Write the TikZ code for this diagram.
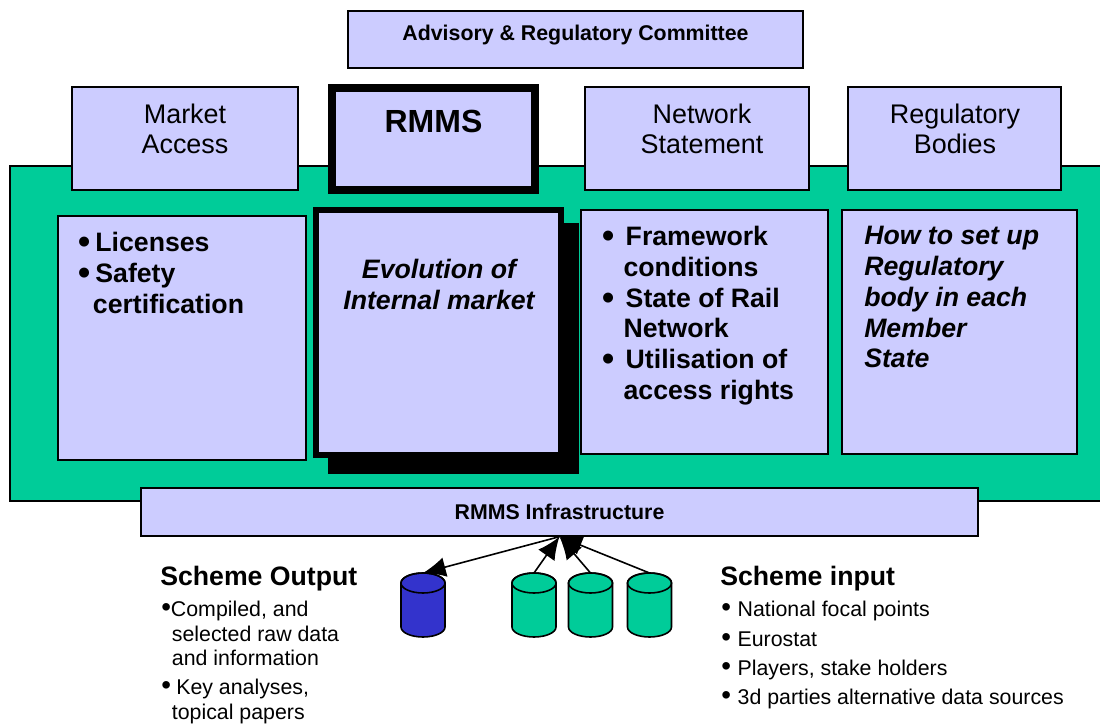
\documentclass[tikz,border=0pt]{standalone}
\usepackage{fontspec}
\setmainfont{Liberation Sans}
\usetikzlibrary{arrows.meta}
\definecolor{lilac}{HTML}{CCCCFF}
\definecolor{panelgreen}{HTML}{00CC99}
\definecolor{dbblue}{HTML}{3333CC}
\newcommand{\blt}{\scalebox{1.3}{\textbullet}}
\newcommand{\bltlow}{\raisebox{-1.5pt}{\blt}}
\tikzset{
	box/.style={draw=black,fill=lilac,line width=1pt,inner sep=0pt},
	boxsize/.style 2 args={minimum width=#1*0.75pt,minimum height=#2*0.75pt},
	flow/.style={-{Latex[length=17pt,width=15pt]},line width=1.2pt},
	big/.style={font=\fontsize{20.2}{23}\selectfont,align=center,inner sep=0pt},
	bigbold/.style={font=\fontsize{20}{23.1}\selectfont\bfseries,align=left,inner sep=0pt,anchor=north west},
	bigital/.style={font=\fontsize{20}{23.1}\selectfont\bfseries\itshape,inner sep=0pt},
	small/.style={font=\fontsize{16}{18.4}\selectfont,align=left,inner sep=0pt,anchor=north west},
	smallbold/.style={font=\fontsize{16}{18}\selectfont\bfseries,inner sep=0pt}
}
\begin{document}
\begin{tikzpicture}[x=0.75pt,y=-0.75pt]
	
	\useasboundingbox (0,0) rectangle (1100,724);
	
	% green panel
	\fill[panelgreen] (10,166) rectangle (1100,501);
	\draw[line width=1pt] (1100,166) -| (10,501) -- (1100,501);
	
	% top row
	\node[box,boxsize={455}{57}] (advisory) at (575.5,39.5) {};
	\node[box,boxsize={226}{103}] (market) at (185,138.5) {};
	\node[box,boxsize={203}{102},line width=6pt] (rmms) at (433.5,139) {};
	\node[box,boxsize={224}{103}] (network) at (697,138.5) {};
	\node[box,boxsize={213}{103}] (regulatory) at (954.5,138.5) {};
	
	\node[smallbold] (advisorytext) at (575.5,35) {Advisory \& Regulatory Committee};
	\node[big] (markettext) at (185,129) {Market\\Access};
	\node[font=\fontsize{24}{30}\selectfont\bfseries,inner sep=0pt] (rmmstext) at (433.5,121) {RMMS};
	\node[big] (networktext) at (702,129) {Network\hspace{6pt}\\Statement};
	\node[big] (regulatorytext) at (955,129) {Regulatory\\Bodies};
	
	% middle row
	\fill (328,223) rectangle (579,474);
	\node[box,boxsize={248}{244}] (licenses) at (182,338) {};
	\node[box,boxsize={245}{245},line width=4.5pt] (evolution) at (438,332.5) {};
	\node[box,boxsize={247}{244}] (framework) at (704.5,332) {};
	\node[box,boxsize={235}{244}] (howto) at (959.5,332) {};
	
	\node[bigbold] (licensestext) at (78,232) {\bltlow\hspace{3.75pt}Licenses\\\bltlow\hspace{3.75pt}Safety\\\hspace{11pt}certification};
	\node[bigital,align=center] (evolutiontext) at (439,284.5) {Evolution of\\Internal market};
	\node[bigbold] (frameworktext) at (602,226) {\bltlow\hspace{8.5pt}Framework\\\hspace{16pt}conditions\\\bltlow\hspace{8.5pt}State of Rail\\\hspace{16pt}Network\\\bltlow\hspace{8.5pt}Utilisation of\\\hspace{16pt}access rights};
	\node[bigital,align=left,anchor=north west] (howtotext) at (864,226) {How to set up\\Regulatory\\body in each\\Member\\State};
	
	% infrastructure
	\node[box,boxsize={837}{48}] (infra) at (559.5,512) {};
	\node[smallbold] (infratext) at (559.5,512) {RMMS Infrastructure};
	
	% databases
	\foreach \dbname/\dbx/\dbcol in {dbout/423/dbblue,dbina/534/panelgreen,dbinb/590.5/panelgreen,dbinc/649.5/panelgreen}{
		\draw[fill=\dbcol,line width=1.2pt] (\dbx-22,583) -- (\dbx-22,627) arc[start angle=180,end angle=360,x radius=16.5pt,y radius=7.5pt] -- (\dbx+22,583) arc[start angle=0,end angle=180,x radius=16.5pt,y radius=7.5pt] -- cycle;
		\draw[line width=1.2pt] (\dbx,583) ellipse[x radius=16.5pt,y radius=7.5pt];
		\coordinate (\dbname) at (\dbx,573);
	}
	
	\draw[flow] (infra.south) -- (dbout);
	\draw[flow] (dbina) -- (infra.south);
	\draw[flow] (dbinb) -- (infra.south);
	\draw[flow] (dbinc) -- (infra.south);
	
	% scheme output
	\node[bigbold] (outputhead) at (160,566) {Scheme Output};
	\node[small] (outputa) at (161,601) {\blt\hspace{0pt}Compiled, and\\\hspace{8pt}selected raw data\\\hspace{8pt}and information};
	\node[small] (outputb) at (161,679) {\blt\hspace{4pt}Key analyses,\\\hspace{8pt}topical papers};
	
	% scheme input
	\node[bigbold] (inputhead) at (720,566) {Scheme input};
	\node[small,font=\fontsize{16}{22}\selectfont] (inputlist) at (721,601) {\blt\hspace{5pt}National focal points\\\blt\hspace{5pt}Eurostat\\\blt\hspace{5pt}Players, stake holders\\\blt\hspace{5pt}3d parties alternative data sources};
	
\end{tikzpicture}
\end{document}
